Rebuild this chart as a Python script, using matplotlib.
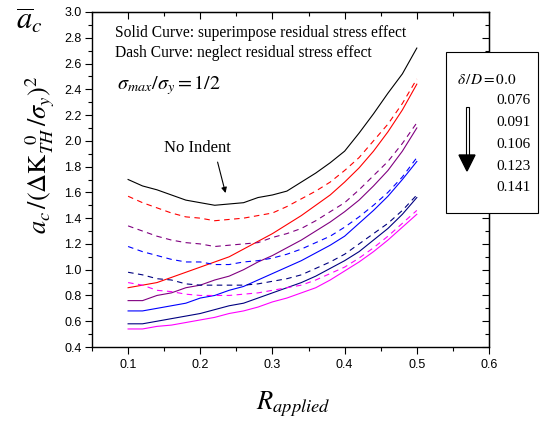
import matplotlib
matplotlib.use("Agg")
import matplotlib.pyplot as plt
import numpy as np
from matplotlib.patches import Rectangle, Polygon
from matplotlib.ticker import MultipleLocator

plt.rcParams['mathtext.fontset'] = 'stix'

R = [0.10, 0.12, 0.14, 0.16, 0.18, 0.20, 0.22, 0.24, 0.26, 0.28, 0.30,
     0.32, 0.34, 0.36, 0.38, 0.40, 0.42, 0.44, 0.46, 0.48, 0.50]

black_solid = [1.70, 1.65, 1.62, 1.58, 1.54, 1.52, 1.50, 1.51, 1.52, 1.56, 1.58,
               1.61, 1.68, 1.75, 1.83, 1.92, 2.06, 2.21, 2.37, 2.52, 2.72]
red_solid = [0.86, 0.88, 0.90, 0.94, 0.98, 1.02, 1.06, 1.10, 1.16, 1.22, 1.28,
             1.35, 1.42, 1.50, 1.58, 1.68, 1.79, 1.92, 2.07, 2.24, 2.44]
red_dash = [1.57, 1.52, 1.48, 1.44, 1.41, 1.40, 1.38, 1.39, 1.40, 1.42, 1.44,
            1.49, 1.55, 1.61, 1.68, 1.77, 1.87, 2.00, 2.13, 2.29, 2.48]
purple_solid = [0.76, 0.76, 0.80, 0.82, 0.86, 0.88, 0.92, 0.95, 1.00, 1.06, 1.11,
                1.17, 1.23, 1.30, 1.37, 1.45, 1.54, 1.65, 1.77, 1.92, 2.10]
purple_dash = [1.34, 1.30, 1.26, 1.23, 1.21, 1.20, 1.18, 1.19, 1.20, 1.21, 1.25,
               1.28, 1.32, 1.38, 1.45, 1.52, 1.62, 1.73, 1.84, 1.98, 2.14]
blue_solid = [0.68, 0.68, 0.70, 0.72, 0.74, 0.78, 0.80, 0.84, 0.87, 0.92, 0.97,
              1.02, 1.07, 1.13, 1.19, 1.26, 1.36, 1.46, 1.57, 1.70, 1.84]
blue_dash = [1.18, 1.14, 1.11, 1.08, 1.06, 1.06, 1.04, 1.04, 1.06, 1.07, 1.09,
             1.12, 1.16, 1.21, 1.26, 1.33, 1.41, 1.50, 1.60, 1.72, 1.87]
navy_solid = [0.58, 0.58, 0.60, 0.62, 0.64, 0.66, 0.69, 0.72, 0.74, 0.78, 0.82,
              0.86, 0.90, 0.95, 1.01, 1.07, 1.14, 1.23, 1.32, 1.43, 1.56]
navy_dash = [0.98, 0.96, 0.93, 0.92, 0.89, 0.88, 0.88, 0.88, 0.88, 0.89, 0.91,
             0.93, 0.96, 1.01, 1.06, 1.12, 1.20, 1.28, 1.36, 1.46, 1.58]
magenta_solid = [0.54, 0.54, 0.56, 0.57, 0.59, 0.61, 0.63, 0.66, 0.68, 0.71, 0.75,
                 0.78, 0.82, 0.86, 0.92, 0.99, 1.06, 1.14, 1.23, 1.33, 1.43]
magenta_dash = [0.90, 0.88, 0.84, 0.83, 0.81, 0.80, 0.80, 0.80, 0.81, 0.82, 0.84,
                0.86, 0.88, 0.92, 0.97, 1.02, 1.09, 1.17, 1.26, 1.36, 1.46]

legend_values = ["0.076", "0.091", "0.106", "0.123", "0.141"]

W, H = 540, 428
fig = plt.figure(figsize=(5.4, 4.28), dpi=100)
ax = fig.add_axes([92 / W, 1 - 347 / H, (489 - 92) / W, (347 - 12) / H])

lw = 0.8
dash = (0, (5, 4))
ax.plot(R, black_solid, color='black', lw=lw)
for sol, das, c in [(red_solid, red_dash, '#FF0000'),
                    (purple_solid, purple_dash, '#800080'),
                    (blue_solid, blue_dash, '#0000FF'),
                    (navy_solid, navy_dash, '#000080'),
                    (magenta_solid, magenta_dash, '#FF00FF')]:
    ax.plot(R, sol, color=c, lw=lw)
    ax.plot(R, das, color=c, lw=lw, linestyle=dash)

ax.set_xlim(0.05, 0.6)
ax.set_ylim(0.4, 3.0)
ax.xaxis.set_major_locator(MultipleLocator(0.1))
ax.xaxis.set_minor_locator(MultipleLocator(0.05))
ax.yaxis.set_major_locator(MultipleLocator(0.2))
ax.yaxis.set_minor_locator(MultipleLocator(0.1))
ax.set_xticks([0.1, 0.2, 0.3, 0.4, 0.5, 0.6])
ax.set_xticklabels(["0.1", "0.2", "0.3", "0.4", "0.5", "0.6"])
ax.tick_params(which='both', direction='out', top=False, right=False,
               labelsize=9, width=0.8)
ax.tick_params(which='major', length=5)
ax.tick_params(which='minor', length=3)
ax.tick_params(axis='y', pad=2.5)
for lab in ax.get_xticklabels() + ax.get_yticklabels():
    lab.set_family('Liberation Sans')
for s in ax.spines.values():
    s.set_linewidth(1.0)

# mirrored inward ticks on top and right
axt = ax.secondary_xaxis('top')
axt.xaxis.set_major_locator(MultipleLocator(0.1))
axt.xaxis.set_minor_locator(MultipleLocator(0.05))
axt.tick_params(which='both', direction='in', labeltop=False, width=0.8)
axt.tick_params(which='major', length=5)
axt.tick_params(which='minor', length=3)
axr = ax.secondary_yaxis('right')
axr.yaxis.set_major_locator(MultipleLocator(0.2))
axr.yaxis.set_minor_locator(MultipleLocator(0.1))
axr.tick_params(which='both', direction='in', labelright=False, width=0.8)
axr.tick_params(which='major', length=5)
axr.tick_params(which='minor', length=3)

serif = 'Liberation Serif'
ax.text(0.082, 2.84, "Solid Curve: superimpose residual stress effect",
        family=serif, fontsize=11.2, va='center', ha='left')
ax.text(0.082, 2.68, "Dash Curve: neglect residual stress effect",
        family=serif, fontsize=11.2, va='center', ha='left')
ax.text(0.084, 2.43, r"$\sigma_{max}/\sigma_y = 1/2$", fontsize=14.5,
        va='center', ha='left')
ax.text(0.196, 1.944, "No Indent", family=serif, fontsize=12,
        ha='center', va='center')
ax.annotate("", xy=(0.235, 1.595), xytext=(0.224, 1.835),
            arrowprops=dict(arrowstyle='-|>', color='black', lw=0.8,
                            mutation_scale=8, shrinkA=0, shrinkB=0))

fig.text(29 / W, 1 - 20 / H, r"$\overline{a}_c$", fontsize=22,
         ha='center', va='center')
fig.text(40 / W, 1 - 155 / H,
         r"$a_c\,/(\Delta\mathrm{K}_{TH}^{\ \ 0}\,/\sigma_y)^2$",
         fontsize=19, rotation=90, ha='center', va='center')
fig.text(293 / W, 1 - 404 / H, r"$R_{applied}$", fontsize=19,
         ha='center', va='center')

# legend box
fig.patches.append(Rectangle((446 / W, 1 - 213 / H), (538 - 446) / W,
                             (213 - 52) / H, transform=fig.transFigure,
                             facecolor='white', edgecolor='black', lw=0.8,
                             zorder=5))
fig.text(457 / W, 1 - 79 / H, r"$\delta\,/D = 0.0$", fontsize=11,
         ha='left', va='center', zorder=6)
for i, v in enumerate(legend_values):
    fig.text(496 / W, 1 - (101 + 21.7 * i) / H, v, family=serif, fontsize=11,
             ha='left', va='center', zorder=6)
fig.patches.append(Rectangle((465.5 / W, 1 - 156 / H), 3 / W, 49 / H,
                             transform=fig.transFigure, facecolor='white',
                             edgecolor='black', lw=0.8, zorder=6))
fig.patches.append(Polygon([(459 / W, 1 - 155 / H), (475 / W, 1 - 155 / H),
                            (467 / W, 1 - 171 / H)], closed=True,
                           transform=fig.transFigure, facecolor='black',
                           edgecolor='black', zorder=7))

fig.savefig("out.png", dpi=100)
